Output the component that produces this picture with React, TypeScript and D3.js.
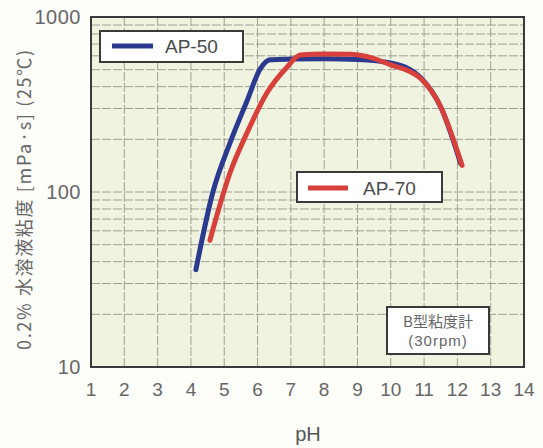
import React from 'react';
import * as d3 from 'd3';

const ap50PH = [4.15, 4.66, 5.17, 5.68, 6.08, 6.38, 7.0, 8.0, 9.0, 10.0, 10.5, 10.9, 11.5, 12.1];
const ap50Visc = [36, 100, 190, 330, 505, 570, 575, 578, 572, 546, 510, 450, 306, 145];
const ap70PH = [4.57, 5.17, 5.68, 6.28, 6.89, 7.28, 8.0, 8.8, 9.5, 10.0, 10.5, 10.9, 11.5, 12.14];
const ap70Visc = [53, 128, 217, 368, 518, 607, 615, 612, 578, 532, 495, 445, 306, 142];
const xTicks = [1, 2, 3, 4, 5, 6, 7, 8, 9, 10, 11, 12, 13, 14];
const yTicks = [10, 100, 1000];
const yMinor = [20, 30, 40, 50, 60, 70, 80, 90, 200, 300, 400, 500, 600, 700, 800, 900];

const W = 543, H = 448;
const L = 91, R = 524, T = 17, B = 367;

export default function App() {
  const x = d3.scaleLinear().domain([1, 14]).range([L, R]);
  const y = d3.scaleLog().domain([10, 1000]).range([B, T]);
  const line = d3.line<[number, number]>().x(d => x(d[0])).y(d => y(d[1])).curve(d3.curveMonotoneX);
  const s50 = ap50PH.map((p, i) => [p, ap50Visc[i]] as [number, number]);
  const s70 = ap70PH.map((p, i) => [p, ap70Visc[i]] as [number, number]);
  const font = '"Liberation Sans", Arial, sans-serif';
  const jp = '"Noto Sans CJK JP", sans-serif';
  const blue = '#2b3a8f';
  const red = '#d8403b';
  const txt = '#666';
  return (
    <svg width={W} height={H} style={{ position: 'absolute', left: 0, top: 0, background: '#fdfdfa' }}>
      <rect x={L} y={T} width={R - L} height={B - T} fill="#f0f3e0" />
      {xTicks.slice(1, -1).map(t => (
        <line key={'vx' + t} x1={x(t)} x2={x(t)} y1={T} y2={B} stroke="#a0a096" strokeWidth={1} strokeDasharray="9,2" />
      ))}
      {yMinor.concat([100]).map(t => (
        <line key={'hy' + t} x1={L} x2={R} y1={y(t)} y2={y(t)} stroke="#a0a096" strokeWidth={1} strokeDasharray="9,2" />
      ))}
      <rect x={L} y={T} width={R - L} height={B - T} fill="none" stroke="#3a3a3a" strokeWidth={2} />
      {xTicks.map(t => (
        <text key={'xt' + t} x={x(t)} y={396} textAnchor="middle" fontFamily={font} fontSize={19} fill={txt}>{t}</text>
      ))}
      {yTicks.map(t => (
        <text key={'yt' + t} x={81} y={y(t) + 7} textAnchor="end" fontFamily={font} fontSize={20} fill={txt} letterSpacing={0.5}>{t}</text>
      ))}
      <text x={308} y={441} textAnchor="middle" fontFamily={font} fontSize={20} fill="#555">pH</text>
      <text transform="translate(31,200) rotate(-90)" textAnchor="middle" fontFamily={jp} fontSize={18} fill={txt} textLength={300} lengthAdjust="spacing">0.2% 水溶液粘度 [mPa·s] (25℃)</text>
      <path d={line(s50) || ''} fill="none" stroke={blue} strokeWidth={5} strokeLinecap="round" strokeLinejoin="round" />
      <path d={line(s70) || ''} fill="none" stroke={red} strokeWidth={5} strokeLinecap="round" strokeLinejoin="round" />
      <rect x={100} y={31} width={143} height={31} fill="#fefefe" stroke="#3a3a3a" strokeWidth={2} />
      <line x1={112} x2={153} y1={46} y2={46} stroke={blue} strokeWidth={5} />
      <text x={165} y={53} fontFamily={font} fontSize={19} fill="#4a4a4a">AP-50</text>
      <rect x={297} y={172} width={145} height={30} fill="#fefefe" stroke="#3a3a3a" strokeWidth={2} />
      <line x1={308} x2={348} y1={188} y2={188} stroke={red} strokeWidth={5} />
      <text x={363} y={195} fontFamily={font} fontSize={19} fill="#4a4a4a">AP-70</text>
      <rect x={387} y={307} width={102} height={47} fill="#fefefe" stroke="#3a3a3a" strokeWidth={2} />
      <text x={438} y={327} textAnchor="middle" fontFamily={jp} fontSize={15} fill={txt}>B型粘度計</text>
      <text x={438} y={346} textAnchor="middle" fontFamily={font} fontSize={15} fill={txt} letterSpacing={1}>(30rpm)</text>
    </svg>
  );
}
